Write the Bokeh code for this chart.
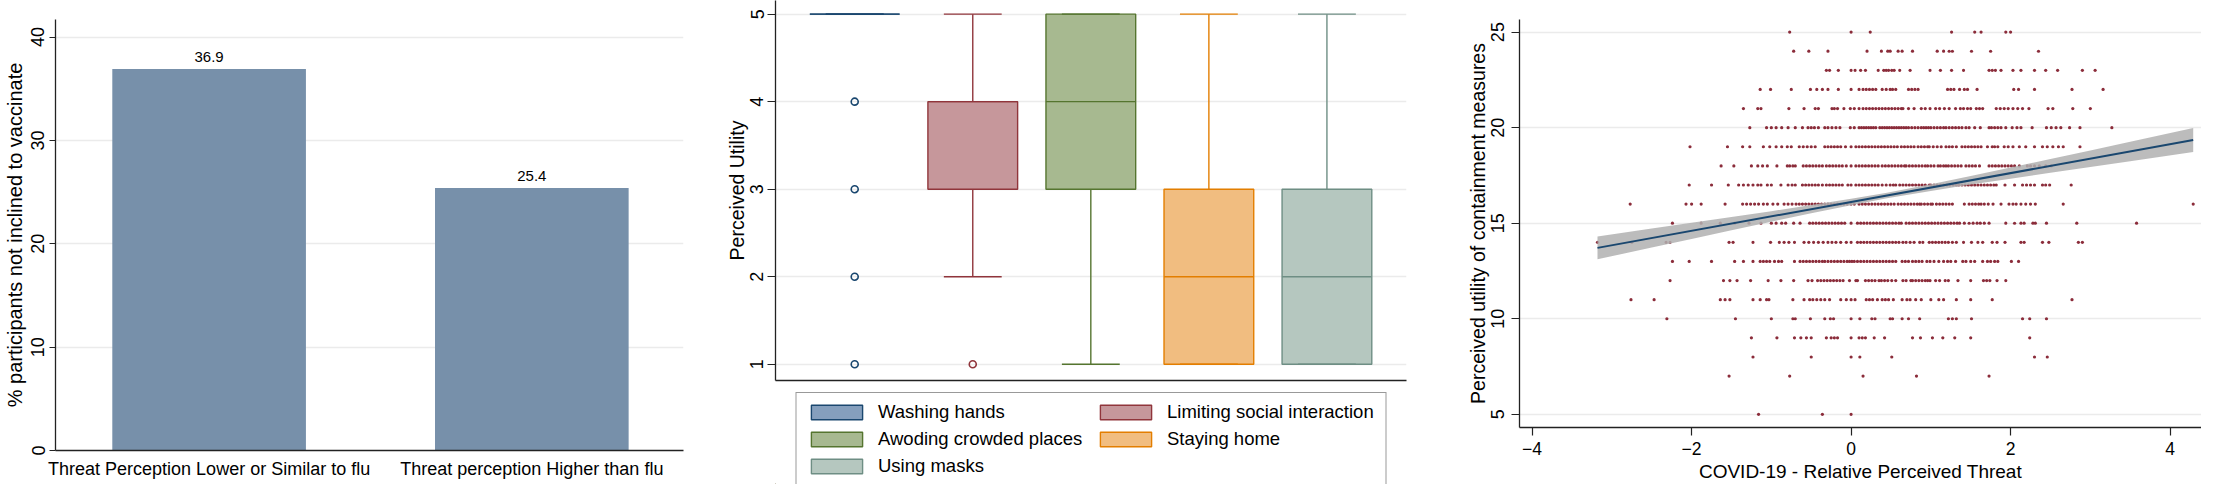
from bokeh.plotting import figure
from bokeh.models import Range1d, ColumnDataSource, Legend, LegendItem, LabelSet, FixedTicker
from bokeh.layouts import row, column
from bokeh.core.properties import value
from bokeh.embed import file_html
from bokeh.resources import INLINE

FONT = "Liberation Sans"

# ---------------- Panel 1 data ----------------
vacc_categories = ["Threat Perception Lower or Similar to flu", "Threat perception Higher than flu"]
vacc_pct = [36.9, 25.4]
vacc_ticks = [0, 10, 20, 30, 40]

# ---------------- Panel 2 data ----------------
measures = ["Washing hands", "Limiting social interaction", "Awoding crowded places",
            "Staying home", "Using masks"]
util_q1 = [5, 3, 3, 1, 1]
util_median = [5, 4, 4, 2, 2]
util_q3 = [5, 4, 5, 3, 3]
util_whisker_lo = [5, 2, 1, 1, 1]
util_whisker_hi = [5, 5, 5, 5, 5]
util_outliers = [[1, 2, 3, 4], [1], [], [], []]
util_ticks = [1, 2, 3, 4, 5]
legend_order = [0, 2, 4, 1, 3]   # column-major fill -> reads row-wise like the reference

# ---------------- Panel 3 data (x = relative perceived threat, per utility score) ----------------
u25 = [-0.77, 0.0, 0.24, 1.26, 1.55, 1.63, 1.94, 2.0]
u24 = [-0.72, -0.53, -0.29, 0.2, 0.38, 0.46, 0.49, 0.59, 0.64, 0.77, 1.08, 1.16, 1.23, 1.27, 1.51, 1.75, 2.35]
u23 = [-0.31, -0.27, -0.16, 0.0, 0.05, 0.12, 0.18, 0.34, 0.41, 0.44, 0.47, 0.51, 0.54, 0.61, 0.74, 0.99,
       1.12, 1.26, 1.41, 1.73, 1.77, 1.81, 1.88, 2.03, 2.13, 2.3, 2.44, 2.59, 2.9, 3.06]
u22 = [-1.14, -1.01, -0.75, -0.51, -0.43, -0.36, -0.29, -0.16, 0.0, 0.1, 0.15, 0.19, 0.23, 0.27, 0.31,
       0.39, 0.44, 0.49, 0.52, 0.56, 0.72, 0.76, 0.8, 0.84, 1.21, 1.25, 1.29, 1.36, 1.42, 1.46, 1.58,
       2.04, 2.1, 2.3, 2.77, 3.16]
u21 = [-1.35, -1.17, -1.13, -0.78, -0.59, -0.45, -0.41, -0.24, -0.21, -0.17, -0.09, -0.01, 0.04, 0.1,
       0.15, 0.19, 0.23, 0.27, 0.31, 0.35, 0.39, 0.43, 0.47, 0.51, 0.55, 0.59, 0.63, 0.65, 0.72, 0.79,
       0.88, 0.93, 0.99, 1.06, 1.11, 1.17, 1.23, 1.31, 1.37, 1.41, 1.46, 1.5, 1.57, 1.61, 1.65, 1.82,
       1.87, 1.92, 1.97, 2.03, 2.09, 2.15, 2.23, 2.47, 2.53, 2.78, 3.0]
u20 = [-1.27, -1.06, -1.0, -0.94, -0.87, -0.79, -0.7, -0.61, -0.54, -0.5, -0.46, -0.41, -0.33, -0.29,
       -0.24, -0.19, -0.14, -0.01, 0.04, 0.1, 0.13, 0.16, 0.19, 0.22, 0.25, 0.28, 0.31, 0.36, 0.39,
       0.42, 0.45, 0.48, 0.51, 0.54, 0.57, 0.6, 0.63, 0.66, 0.69, 0.72, 0.76, 0.8, 0.84, 0.88, 0.91,
       0.94, 0.97, 1.0, 1.04, 1.08, 1.12, 1.16, 1.19, 1.23, 1.27, 1.31, 1.35, 1.39, 1.44, 1.48, 1.55,
       1.62, 1.73, 1.76, 1.8, 1.84, 1.88, 1.94, 2.02, 2.08, 2.13, 2.27, 2.45, 2.51, 2.57, 2.63, 2.74,
       2.87, 3.27]
u19 = [-2.02, -1.55, -1.36, -1.27, -1.1, -1.02, -0.94, -0.87, -0.8, -0.75, -0.65, -0.6, -0.55, -0.5,
       -0.45, -0.33, -0.29, -0.25, -0.21, -0.17, -0.13, -0.07, 0.0, 0.06, 0.1, 0.14, 0.18, 0.22, 0.26,
       0.3, 0.34, 0.38, 0.42, 0.46, 0.5, 0.54, 0.58, 0.63, 0.67, 0.71, 0.75, 0.79, 0.84, 0.88, 0.92,
       0.96, 0.98, 1.03, 1.08, 1.13, 1.19, 1.23, 1.27, 1.32, 1.39, 1.43, 1.47, 1.51, 1.55, 1.59, 1.63,
       1.71, 1.77, 1.8, 1.84, 1.92, 1.97, 2.03, 2.11, 2.19, 2.3, 2.4, 2.46, 2.53, 2.6, 2.66, 2.87]
u18 = [-1.63, -1.47, -1.25, -1.17, -1.11, -1.05, -0.93, -0.8, -0.77, -0.73, -0.7, -0.6, -0.56, -0.52,
       -0.48, -0.44, -0.4, -0.36, -0.31, -0.27, -0.23, -0.19, -0.15, -0.11, -0.06, 0.0, 0.06, 0.1, 0.14,
       0.18, 0.22, 0.26, 0.3, 0.34, 0.39, 0.43, 0.47, 0.51, 0.55, 0.59, 0.63, 0.67, 0.69, 0.73, 0.77,
       0.81, 0.85, 0.89, 0.93, 0.96, 1.0, 1.04, 1.09, 1.12, 1.16, 1.19, 1.22, 1.26, 1.3, 1.34, 1.38,
       1.44, 1.48, 1.52, 1.56, 1.61, 1.73, 1.77, 1.81, 1.85, 1.89, 1.93, 1.97, 2.01, 2.05, 2.11, 2.21,
       2.25, 2.3, 2.36, 2.44, 2.51]
u17 = [-2.03, -1.75, -1.54, -1.41, -1.35, -1.29, -1.23, -1.17, -1.13, -1.05, -1.0, -0.88, -0.79, -0.74,
       -0.7, -0.61, -0.57, -0.53, -0.49, -0.45, -0.41, -0.36, -0.31, -0.27, -0.23, -0.19, -0.15, -0.11,
       -0.04, 0.0, 0.06, 0.1, 0.14, 0.18, 0.22, 0.26, 0.3, 0.34, 0.39, 0.44, 0.49, 0.53, 0.56, 0.61,
       0.65, 0.69, 0.73, 0.77, 0.81, 0.85, 0.89, 0.93, 0.98, 1.0, 1.04, 1.08, 1.12, 1.16, 1.2, 1.24,
       1.28, 1.32, 1.35, 1.39, 1.43, 1.47, 1.51, 1.55, 1.59, 1.63, 1.67, 1.71, 1.75, 1.79, 1.82, 1.93,
       2.05, 2.15, 2.2, 2.25, 2.3, 2.4, 2.44, 2.49, 2.76]
u16 = [-2.77, -2.07, -2.0, -1.88, -1.58, -1.36, -1.31, -1.26, -1.21, -1.16, -1.1, -1.05, -0.98, -0.92,
       -0.84, -0.79, -0.74, -0.69, -0.65, -0.61, -0.57, -0.53, -0.49, -0.45, -0.41, -0.37, -0.33, -0.29,
       -0.25, -0.21, -0.17, -0.13, -0.09, -0.05, 0.0, 0.04, 0.1, 0.14, 0.18, 0.22, 0.26, 0.3, 0.34,
       0.38, 0.42, 0.46, 0.5, 0.54, 0.59, 0.63, 0.67, 0.71, 0.75, 0.79, 0.83, 0.86, 0.88, 0.92, 0.96,
       1.0, 1.02, 1.07, 1.11, 1.15, 1.19, 1.23, 1.27, 1.42, 1.48, 1.52, 1.56, 1.6, 1.63, 1.67, 1.72,
       1.78, 1.88, 1.98, 2.03, 2.07, 2.13, 2.19, 2.25, 2.31, 2.66, 4.29]
u15 = [-2.24, -1.88, -1.64, -1.46, -1.28, -1.13, -1.0, -0.94, -0.87, -0.82, -0.72, -0.64, -0.52, -0.48,
       -0.44, -0.4, -0.36, -0.32, -0.28, -0.24, -0.2, -0.16, -0.12, -0.08, 0.0, 0.08, 0.12, 0.16, 0.2,
       0.24, 0.28, 0.32, 0.36, 0.4, 0.44, 0.48, 0.52, 0.56, 0.6, 0.63, 0.69, 0.73, 0.77, 0.81, 0.85,
       0.89, 0.93, 0.97, 1.01, 1.05, 1.09, 1.13, 1.17, 1.21, 1.25, 1.29, 1.33, 1.36, 1.42, 1.48, 1.53,
       1.58, 1.62, 1.67, 1.73, 1.94, 2.05, 2.13, 2.17, 2.28, 2.31, 2.45, 2.83, 3.58]
u14 = [-3.18, -2.75, -2.32, -2.27, -1.53, -1.48, -1.23, -1.01, -0.9, -0.84, -0.78, -0.71, -0.59, -0.53,
       -0.47, -0.41, -0.35, -0.29, -0.24, -0.19, -0.13, -0.06, 0.0, 0.08, 0.12, 0.16, 0.2, 0.24, 0.28,
       0.32, 0.36, 0.4, 0.44, 0.48, 0.52, 0.56, 0.6, 0.65, 0.69, 0.74, 0.79, 0.86, 0.9, 0.98, 1.02,
       1.06, 1.1, 1.14, 1.18, 1.22, 1.27, 1.32, 1.41, 1.51, 1.59, 1.65, 1.77, 1.83, 1.93, 2.13, 2.17,
       2.4, 2.48, 2.85, 2.9]
u13 = [-2.24, -2.03, -1.75, -1.46, -1.35, -1.23, -1.14, -1.1, -1.06, -1.02, -0.96, -0.91, -0.87, -0.71,
       -0.64, -0.6, -0.56, -0.52, -0.48, -0.44, -0.4, -0.36, -0.33, -0.29, -0.25, -0.21, -0.17, -0.13,
       -0.09, -0.05, -0.02, 0.01, 0.04, 0.08, 0.12, 0.16, 0.2, 0.24, 0.28, 0.32, 0.36, 0.4, 0.44, 0.48,
       0.52, 0.56, 0.64, 0.68, 0.72, 0.77, 0.81, 0.85, 0.89, 0.95, 0.99, 1.04, 1.1, 1.16, 1.21, 1.25,
       1.31, 1.4, 1.44, 1.5, 1.55, 1.65, 1.71, 1.75, 1.8, 1.84, 2.01, 2.1]
u12 = [-2.27, -1.6, -1.52, -1.43, -1.26, -1.04, -0.88, -0.72, -0.54, -0.49, -0.42, -0.38, -0.34, -0.3,
       -0.26, -0.22, -0.18, -0.14, -0.1, -0.02, 0.06, 0.08, 0.18, 0.22, 0.26, 0.3, 0.35, 0.38, 0.42,
       0.46, 0.51, 0.56, 0.65, 0.69, 0.75, 0.77, 0.81, 0.85, 0.89, 0.93, 0.96, 0.99, 1.06, 1.11, 1.18,
       1.22, 1.34, 1.5, 1.66, 1.7, 1.74, 1.83, 1.94]
u11 = [-2.76, -2.47, -1.64, -1.58, -1.52, -1.23, -1.14, -1.06, -1.03, -0.73, -0.59, -0.52, -0.48, -0.43,
       -0.38, -0.33, -0.27, -0.13, -0.06, 0.0, 0.05, 0.19, 0.23, 0.27, 0.33, 0.39, 0.43, 0.47, 0.53,
       0.64, 0.7, 0.74, 0.81, 0.88, 1.0, 1.1, 1.16, 1.32, 1.5, 1.77, 2.77]
u10 = [-2.31, -1.45, -1.0, -0.73, -0.7, -0.51, -0.33, -0.26, -0.22, 0.0, 0.11, 0.26, 0.3, 0.49, 0.52,
       0.64, 0.72, 0.86, 1.22, 1.27, 1.32, 1.51, 2.15, 2.24, 2.45]
u9 = [-1.25, -0.93, -0.71, -0.63, -0.56, -0.5, -0.31, -0.25, -0.21, -0.17, 0.0, 0.1, 0.14, 0.18, 0.29,
      0.42, 0.77, 0.87, 1.02, 1.15, 1.3, 1.5, 2.24]
u8 = [-1.23, -0.5, 0.0, 0.11, 0.51, 2.3, 2.46]
u7 = [-1.53, -0.77, 0.15, 0.82, 1.73]
u6 = []
u5 = [-1.16, -0.36, 0.0]

utility_levels = [25, 24, 23, 22, 21, 20, 19, 18, 17, 16, 15, 14, 13, 12, 11, 10, 9, 8, 7, 6, 5]
threat_rows = [u25, u24, u23, u22, u21, u20, u19, u18, u17, u16, u15, u14, u13, u12, u11, u10, u9,
               u8, u7, u6, u5]

# linear fit with 95% CI
fit_x = [-3.18, 4.29]
fit_y = [13.71, 19.35]
band_x = [-3.18, -2.5, -2.0, -1.5, -1.0, -0.5, 0.0, 0.45, 1.0, 1.5, 2.0, 2.5, 3.0, 3.5, 4.29]
band_lo = [13.11, 13.73, 14.18, 14.63, 15.08, 15.52, 15.94, 16.30, 16.69, 17.02, 17.33, 17.64, 17.94, 18.24, 18.72]
band_hi = [14.31, 14.72, 15.02, 15.33, 15.63, 15.95, 16.28, 16.60, 17.04, 17.47, 17.91, 18.36, 18.81, 19.26, 19.98]
threat_ticks = [-4, -2, 0, 2, 4]
containment_ticks = [5, 10, 15, 20, 25]

# ---------------- styles ----------------
BAR_COLOR = "#7790aa"
LINE_COLORS = ["#1a476f", "#90353b", "#55752f", "#e37e00", "#6e8e84"]
FILL_COLORS = ["#859fbd", "#c6979b", "#a7b990", "#f1bd80", "#b5c7bf"]
DOT_COLOR = "#8b2c3a"
GRID = "#ebebeb"
AXIS = "#222222"


def style_axes(p):
    p.outline_line_color = None
    p.background_fill_color = "white"
    p.border_fill_color = "white"
    for ax in (p.xaxis[0], p.yaxis[0]):
        ax.axis_line_color = AXIS
        ax.axis_line_width = 1.3
        ax.major_tick_line_color = AXIS
        ax.major_tick_line_width = 1.2
        ax.minor_tick_line_color = None
        ax.major_tick_in = 0
        ax.major_label_text_font = FONT
        ax.major_label_text_color = "black"
        ax.axis_label_text_font = FONT
        ax.axis_label_text_font_style = "normal"
        ax.axis_label_text_color = "black"
    p.xgrid.grid_line_color = None
    p.ygrid.grid_line_color = GRID
    p.ygrid.grid_line_width = 1.5


# ---------------- Panel 1 ----------------
cat_x = list(range(1, len(vacc_categories) + 1))
p1 = figure(width=722, height=484, x_range=Range1d(0.524, 2.47), y_range=Range1d(0, 41.7),
            output_backend="svg", toolbar_location=None,
            min_border_left=45, min_border_right=39, min_border_top=19, min_border_bottom=34)
style_axes(p1)
src1 = ColumnDataSource(dict(x=cat_x, top=vacc_pct, label=[f"{v:.1f}" for v in vacc_pct]))
p1.vbar(x="x", top="top", width=0.6, source=src1, fill_color=BAR_COLOR, line_color=None)
p1.add_layout(LabelSet(x="x", y="top", text="label", source=src1, y_offset=7,
                       text_align="center", text_baseline="bottom",
                       text_font=value(FONT), text_font_size="15px", text_color="black"))
p1.xaxis.ticker = FixedTicker(ticks=cat_x)
p1.xaxis.major_label_overrides = {x: c for x, c in zip(cat_x, vacc_categories)}
p1.xaxis.major_tick_out = 0
p1.xaxis.major_label_standoff = 8
p1.xaxis.major_label_text_font_size = "18px"
p1.yaxis.ticker = FixedTicker(ticks=vacc_ticks)
p1.yaxis.major_label_orientation = "vertical"
p1.yaxis.major_tick_out = 6
p1.yaxis.major_label_standoff = 5
p1.yaxis.major_label_text_font_size = "18px"
p1.yaxis.axis_label = "% participants not inclined to vaccinate"
p1.yaxis.axis_label_text_font_size = "20px"
p1.yaxis.axis_label_standoff = 3

# ---------------- Panel 2 ----------------
BOX_W = 0.76
CAP_W = 0.49
mx = list(range(1, len(measures) + 1))
p2 = figure(width=715, height=390, x_range=Range1d(0.329, 5.674), y_range=Range1d(0.814, 5.156),
            output_backend="svg", toolbar_location=None,
            min_border_left=49, min_border_right=31, min_border_top=0, min_border_bottom=10)
style_axes(p2)
src2 = ColumnDataSource(dict(x=mx, q1=util_q1, q3=util_q3, med=util_median,
                             lo=util_whisker_lo, hi=util_whisker_hi,
                             line=LINE_COLORS, fill=FILL_COLORS,
                             bx0=[v - BOX_W / 2 for v in mx], bx1=[v + BOX_W / 2 for v in mx],
                             cx0=[v - CAP_W / 2 for v in mx], cx1=[v + CAP_W / 2 for v in mx]))
p2.segment(x0="x", y0="q3", x1="x", y1="hi", source=src2, line_color="line", line_width=1.4)
p2.segment(x0="x", y0="q1", x1="x", y1="lo", source=src2, line_color="line", line_width=1.4)
p2.vbar(x="x", bottom="q1", top="q3", width=BOX_W, source=src2,
        fill_color="fill", line_color="line", line_width=1.4)
p2.segment(x0="bx0", y0="med", x1="bx1", y1="med", source=src2, line_color="line", line_width=1.4)
p2.segment(x0="cx0", y0="hi", x1="cx1", y1="hi", source=src2, line_color="line", line_width=1.4)
p2.segment(x0="cx0", y0="lo", x1="cx1", y1="lo", source=src2, line_color="line", line_width=1.4)
ox, oy, oc = [], [], []
for x, outs, c in zip(mx, util_outliers, LINE_COLORS):
    for v in outs:
        ox.append(x)
        oy.append(v)
        oc.append(c)
p2.scatter(ox, oy, marker="circle", size=7, fill_color=None, line_color=oc, line_width=1.6)
p2.xaxis.ticker = FixedTicker(ticks=[3])
p2.xaxis.major_label_overrides = {3: " "}
p2.xaxis.major_tick_out = 0
p2.xaxis.major_label_standoff = 0
p2.xaxis.major_label_text_font_size = "1px"
p2.yaxis.ticker = FixedTicker(ticks=util_ticks)
p2.yaxis.major_label_orientation = "vertical"
p2.yaxis.major_tick_out = 8
p2.yaxis.major_label_standoff = 4
p2.yaxis.major_label_text_font_size = "18px"
p2.yaxis.axis_label = "Perceived Utility"
p2.yaxis.axis_label_text_font_size = "19.5px"
p2.yaxis.axis_label_standoff = 0

# legend panel below the box plot
pl = figure(width=715, height=94, x_range=Range1d(100, 101), y_range=Range1d(100, 101),
            output_backend="svg", toolbar_location=None,
            min_border_left=49, min_border_right=31, min_border_top=0, min_border_bottom=0)
pl.axis.visible = False
pl.grid.visible = False
pl.outline_line_color = None
leg_boxes = pl.vbar(x="x", bottom="q1", top="q3", width=BOX_W, source=src2,
                    fill_color="fill", line_color="line", line_width=1.4)
legend = Legend(items=[LegendItem(label=measures[i], renderers=[leg_boxes], index=i) for i in legend_order],
                ncols=2, location="top_center",
                border_line_color="#333333", border_line_width=1.3,
                padding=8, spacing=5, margin=2,
                glyph_width=64, glyph_height=18, label_standoff=10,
                label_width=210, label_height=18,
                label_text_font=FONT, label_text_font_size="18.5px", label_text_color="black")
pl.add_layout(legend, "center")

# ---------------- Panel 3 ----------------
sx, sy = [], []
for lvl, xs in zip(utility_levels, threat_rows):
    for v in xs:
        sx.append(v)
        sy.append(lvl)
p3 = figure(width=764, height=484, x_range=Range1d(-4.158, 4.394), y_range=Range1d(4.31, 25.66),
            output_backend="svg", toolbar_location=None,
            min_border_left=82, min_border_right=0, min_border_top=19, min_border_bottom=52)
style_axes(p3)
p3.scatter(sx, sy, marker="circle", size=3.2, fill_color=DOT_COLOR, line_color=None)
p3.varea(x=band_x, y1=band_lo, y2=band_hi, fill_color="#b0b0b0", fill_alpha=0.85)
p3.line(fit_x, fit_y, line_color="#1a476f", line_width=2)
p3.xaxis.ticker = FixedTicker(ticks=threat_ticks)
p3.xaxis.major_tick_out = 8
p3.xaxis.major_label_standoff = 6
p3.xaxis.major_label_text_font_size = "17.5px"
p3.xaxis.axis_label = "COVID-19 - Relative Perceived Threat"
p3.xaxis.axis_label_text_font_size = "19px"
p3.xaxis.axis_label_standoff = 3
p3.yaxis.ticker = FixedTicker(ticks=containment_ticks)
p3.yaxis.major_label_orientation = "vertical"
p3.yaxis.major_tick_out = 8
p3.yaxis.major_label_standoff = 7
p3.yaxis.major_label_text_font_size = "18px"
p3.yaxis.axis_label = "Perceived utility of containment measures"
p3.yaxis.axis_label_text_font_size = "19.5px"
p3.yaxis.axis_label_standoff = 0

layout = row(column(p1), column(p2, pl), column(p3))
open("out.html", "w").write(file_html(layout, INLINE))
